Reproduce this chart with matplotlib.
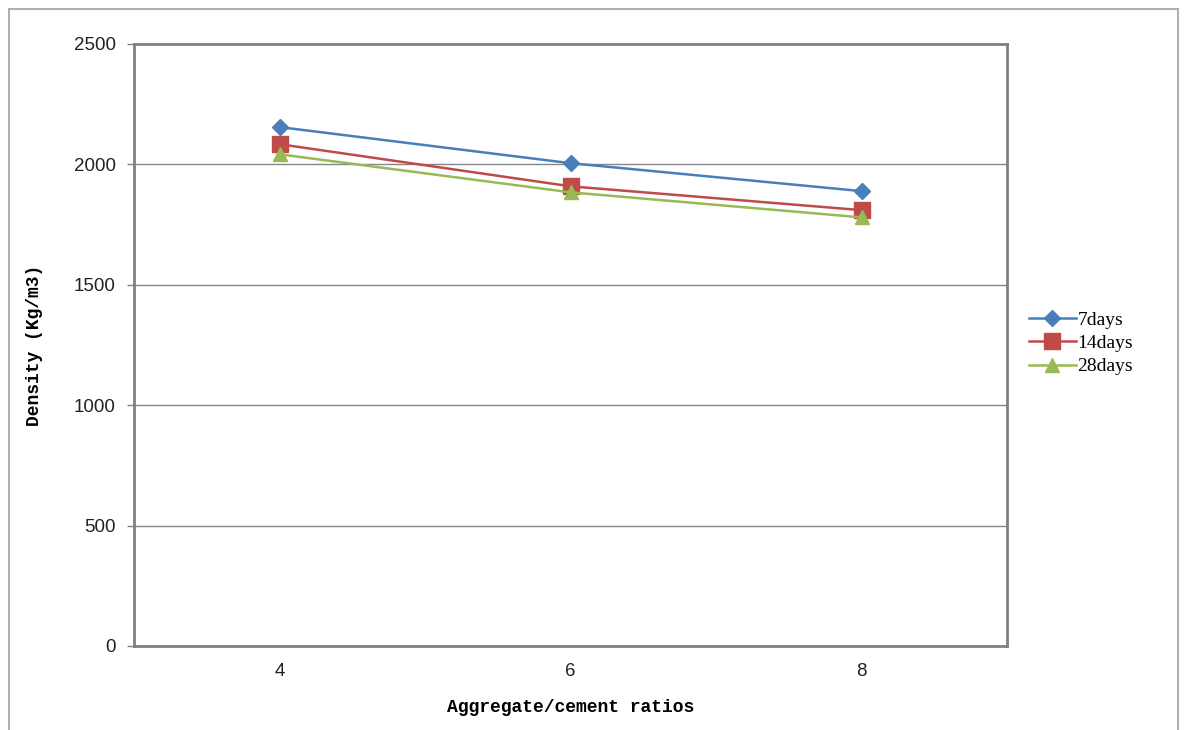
import numpy as np
import matplotlib.pyplot as plt
from matplotlib.patches import Rectangle

ratios = ['4', '6', '8']
days_7 = [2155, 2005, 1889]
days_14 = [2084, 1909, 1810]
days_28 = [2042, 1884, 1780]

fig = plt.figure(figsize=(11.85, 7.30), dpi=100)

# outer chart frame (bottom edge runs off the picture)
fig.patches.append(Rectangle((9 / 1185, -0.02), 1169 / 1185, 1.02 - 9 / 730,
                             transform=fig.transFigure, fill=False,
                             edgecolor='#b0b0b0', linewidth=1.5))

ax = fig.add_axes([134 / 1185, 1 - 646 / 730, 873 / 1185, 602 / 730])

x = np.arange(len(ratios))
ax.plot(x, days_7, color='#4a7ebb', marker='D', markersize=8.5, linewidth=1.8,
        label='7days')
ax.plot(x, days_14, color='#be4b48', marker='s', markersize=11, linewidth=1.8,
        label='14days')
ax.plot(x, days_28, color='#98b954', marker='^', markersize=10, linewidth=1.8,
        label='28days')

ax.set_xlim(-0.5, 2.5)
ax.set_ylim(0, 2500)
ax.set_yticks(range(0, 2501, 500))
ax.set_xticks(x)
ax.set_xticklabels(ratios)
ax.yaxis.grid(True, color='#868686', linewidth=1)
ax.set_axisbelow(True)

for side in ['left', 'bottom', 'right', 'top']:
    ax.spines[side].set_color('#808080')
    ax.spines[side].set_linewidth(2)

ax.tick_params(axis='y', length=5, width=1, color='#808080', pad=8,
               labelsize=13.5, labelcolor='#222222')
ax.tick_params(axis='x', length=0, pad=12, labelsize=13.5,
               labelcolor='#222222')
for lbl in ax.get_xticklabels() + ax.get_yticklabels():
    lbl.set_family('Liberation Sans')

ax.set_xlabel('Aggregate/cement ratios', family='Liberation Mono',
              fontweight='bold', fontsize=13, labelpad=14)
ax.set_ylabel('Density (Kg/m3)', family='Liberation Mono',
              fontweight='bold', fontsize=13, labelpad=22)

ax.legend(loc='center left', bbox_to_anchor=(1.005, 0.503), frameon=False,
          prop={'family': 'Liberation Serif', 'size': 14},
          handlelength=2.4, handletextpad=0.1, labelspacing=0.3)

fig.savefig('out.png', dpi=100)
